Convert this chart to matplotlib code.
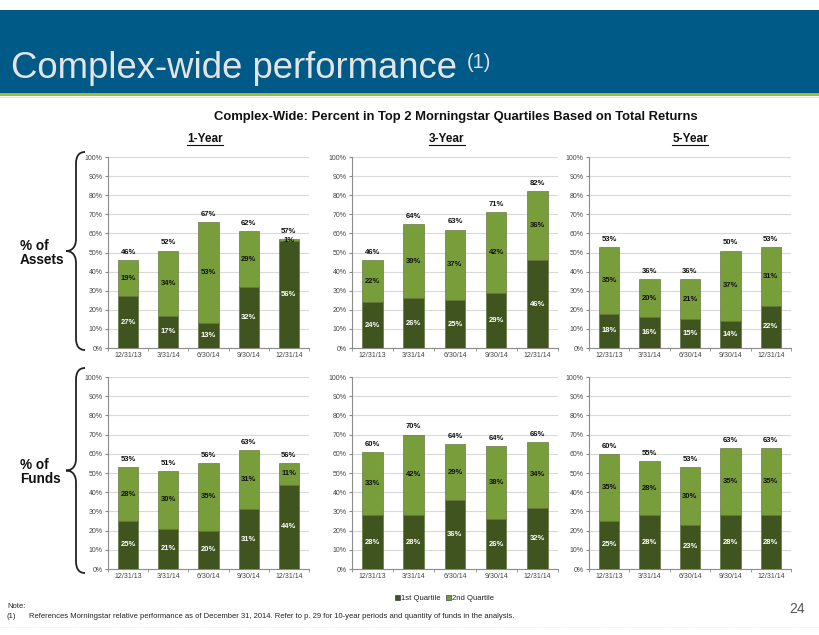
import matplotlib
matplotlib.use("Agg")
import matplotlib.pyplot as plt
from matplotlib.patches import Rectangle, PathPatch
from matplotlib.path import Path
import numpy as np

# ---------------- data ----------------
categories = ['12/31/13', '3/31/14', '6/30/14', '9/30/14', '12/31/14']

assets_1y_q1 = [27, 17, 13, 32, 56]
assets_1y_q2 = [19, 34, 53, 29, 1]
assets_1y_tot = [46, 52, 67, 62, 57]

assets_3y_q1 = [24, 26, 25, 29, 46]
assets_3y_q2 = [22, 39, 37, 42, 36]
assets_3y_tot = [46, 64, 63, 71, 82]

assets_5y_q1 = [18, 16, 15, 14, 22]
assets_5y_q2 = [35, 20, 21, 37, 31]
assets_5y_tot = [53, 36, 36, 50, 53]

funds_1y_q1 = [25, 21, 20, 31, 44]
funds_1y_q2 = [28, 30, 35, 31, 11]
funds_1y_tot = [53, 51, 56, 63, 56]

funds_3y_q1 = [28, 28, 36, 26, 32]
funds_3y_q2 = [33, 42, 29, 38, 34]
funds_3y_tot = [60, 70, 64, 64, 66]

funds_5y_q1 = [25, 28, 23, 28, 28]
funds_5y_q2 = [35, 28, 30, 35, 35]
funds_5y_tot = [60, 55, 53, 63, 63]

series_names = ['1st Quartile', '2nd Quartile']
period_titles = ['1-Year', '3-Year', '5-Year']
row_labels = ['% of\nAssets', '% of\nFunds']
y_ticks = [0, 10, 20, 30, 40, 50, 60, 70, 80, 90, 100]

# ---------------- style ----------------
plt.rcParams['font.family'] = ['Liberation Sans', 'DejaVu Sans']
DARK = '#3f541f'
LIGHT = '#789d3b'
EDGE = '#56652f'
W, H = 820, 635

fig = plt.figure(figsize=(W / 100, H / 100), dpi=100)

# overlay in pixel coordinates
ov = fig.add_axes([0, 0, 1, 1], zorder=-1)
ov.set_xlim(0, W)
ov.set_ylim(H, 0)
ov.axis('off')

ov.add_patch(Rectangle((0, 10), W, 83, color='#005a87', lw=0))
ov.add_patch(Rectangle((0, 93), W, 2.5, color='#9cbf3b', lw=0))
ov.plot([0, W], [97, 97], color='#e2e2e2', lw=0.6)
ov.plot([0, W], [627, 627], color='#e0e0e0', lw=0.6, ls=':')

ov.text(11, 78, 'Complex-wide performance', fontsize=26.3, color='#e4e4e4',
        va='baseline', ha='left')
ov.text(467, 68, '(1)', fontsize=14.5, color='#e4e4e4', va='baseline', ha='left')

fig.text(456 / W, 1 - 117 / H,
         'Complex-Wide: Percent in Top 2 Morningstar Quartiles Based on Total Returns',
         family=['Liberation Sans Narrow', 'Liberation Sans', 'DejaVu Sans'],
         fontsize=9.4, weight='bold', ha='center', va='center', color='#111111')


def brace(y_top, y_bot, x_end=85, x_spine=76, x_tip=66):
    ym = (y_top + y_bot) / 2
    verts = [(x_end, y_top), (x_spine + 3, y_top), (x_spine, y_top + 4), (x_spine, y_top + 12),
             (x_spine, ym - 12),
             (x_spine, ym - 4), (x_spine - 4, ym), (x_tip, ym),
             (x_spine - 4, ym), (x_spine, ym + 4), (x_spine, ym + 12),
             (x_spine, y_bot - 12),
             (x_spine, y_bot - 4), (x_spine + 3, y_bot), (x_end, y_bot)]
    codes = [Path.MOVETO, Path.CURVE4, Path.CURVE4, Path.CURVE4,
             Path.LINETO,
             Path.CURVE4, Path.CURVE4, Path.CURVE4,
             Path.CURVE4, Path.CURVE4, Path.CURVE4,
             Path.LINETO,
             Path.CURVE4, Path.CURVE4, Path.CURVE4]
    ov.add_patch(PathPatch(Path(verts, codes), fill=False, lw=1.3, ec='#222222'))


brace(152, 350)
brace(368, 573)
ov.text(20, 253, row_labels[0], fontsize=9.8, weight='bold', ha='left', va='center',
        linespacing=1.0, color='#111111')
ov.text(20, 472, row_labels[1], fontsize=9.8, weight='bold', ha='left', va='center',
        linespacing=1.0, color='#111111')

# legend
ov.add_patch(Rectangle((395, 595), 5, 5, fc=DARK, ec='#222222', lw=0.4))
ov.text(401, 598, series_names[0], fontsize=5.5, va='center', ha='left', color='#222222')
ov.add_patch(Rectangle((446, 595), 5, 5, fc=LIGHT, ec='#222222', lw=0.4))
ov.text(452, 598, series_names[1], fontsize=5.5, va='center', ha='left', color='#222222')

ov.text(7, 606, 'Note:', fontsize=5.5, va='center', ha='left', color='#222222')
ov.text(7, 617, '(1)', fontsize=5.5, va='center', ha='left', color='#222222')
ov.text(29, 617, 'References Morningstar relative performance as of December 31, 2014. '
        'Refer to p. 29 for 10-year periods and quantity of funds in the analysis.',
        fontsize=5.5, va='center', ha='left', color='#222222')
ov.text(805, 609, '24', fontsize=10, va='center', ha='right', color='#555555')

# ---------------- charts ----------------
col_x = [(108, 309), (352, 558), (589, 791)]
row_y = [(157, 348), (377, 569)]
header_x = [205, 447, 690]

data = [
    [(assets_1y_q1, assets_1y_q2, assets_1y_tot),
     (assets_3y_q1, assets_3y_q2, assets_3y_tot),
     (assets_5y_q1, assets_5y_q2, assets_5y_tot)],
    [(funds_1y_q1, funds_1y_q2, funds_1y_tot),
     (funds_3y_q1, funds_3y_q2, funds_3y_tot),
     (funds_5y_q1, funds_5y_q2, funds_5y_tot)],
]

x = np.arange(len(categories))
for r, (yt, yb) in enumerate(row_y):
    for c, (xl, xr) in enumerate(col_x):
        ax = fig.add_axes([xl / W, 1 - yb / H, (xr - xl) / W, (yb - yt) / H])
        ax.set_facecolor('none')
        q1, q2, tot = data[r][c]
        q1 = np.array(q1, float)
        q2 = np.array(q2, float)
        ax.bar(x, q1, width=0.5, color=DARK, edgecolor=EDGE, lw=0.4, zorder=3)
        ax.bar(x, q2, bottom=q1, width=0.5, color=LIGHT, edgecolor=EDGE, lw=0.4, zorder=3)
        for i in range(len(x)):
            ax.text(x[i], q1[i] / 2, f'{int(q1[i])}%', ha='center', va='center',
                    fontsize=5.5, weight='bold', color='white', zorder=4)
            ax.text(x[i], q1[i] + q2[i] / 2, f'{int(q2[i])}%', ha='center', va='center',
                    fontsize=5.5, weight='bold', color='#111111', zorder=4)
            ax.annotate(f'{tot[i]}%', (x[i], q1[i] + q2[i]), xytext=(0, 3),
                        textcoords='offset points', ha='center', va='bottom',
                        fontsize=5.5, weight='bold', color='#111111', zorder=4)
        ax.set_xlim(-0.5, len(x) - 0.5)
        ax.set_ylim(0, 100)
        ax.set_yticks(y_ticks)
        ax.set_yticklabels([f'{v}%' for v in y_ticks])
        ax.set_xticks(x)
        ax.set_xticklabels(categories)
        ax.set_xticks(np.arange(len(x) + 1) - 0.5, minor=True)
        ax.tick_params(axis='x', which='major', length=0, labelsize=5, labelcolor='#444444', pad=3)
        ax.tick_params(axis='x', which='minor', length=2, color='#888888')
        ax.tick_params(axis='y', length=2, labelsize=5, labelcolor='#444444', color='#888888', pad=2)
        ax.grid(axis='y', color='#d9d9d9', lw=0.8, zorder=0)
        ax.set_axisbelow(True)
        for s in ['top', 'right']:
            ax.spines[s].set_visible(False)
        for s in ['left', 'bottom']:
            ax.spines[s].set_color('#8c8c8c')
            ax.spines[s].set_linewidth(0.8)
        if r == 0:
            ov.text(header_x[c], 142, period_titles[c], fontsize=8.5, weight='bold',
                    ha='center', va='baseline', color='#111111')

# underline headers
fig.canvas.draw()
renderer = fig.canvas.get_renderer()
inv = ov.transData.inverted()
for t in ov.texts:
    if t.get_text() in period_titles:
        bb = t.get_window_extent(renderer)
        (x0, y0), (x1, y1) = inv.transform([(bb.x0, bb.y0), (bb.x1, bb.y1)])
        ov.plot([x0, x1], [144.5, 144.5], color='#111111', lw=0.8)

fig.savefig('out.png', dpi=100)
